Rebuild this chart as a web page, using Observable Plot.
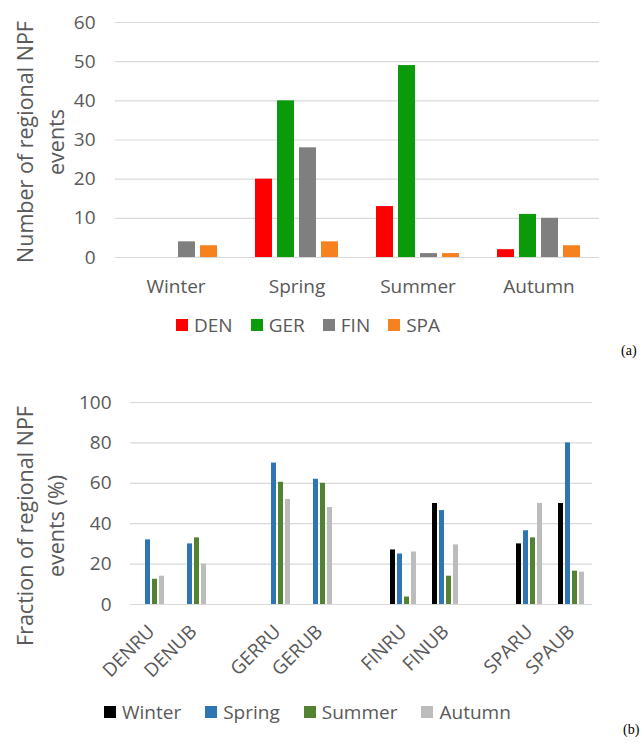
<!DOCTYPE html>
<html>
<head>
<meta charset="utf-8">
<script src="https://cdn.jsdelivr.net/npm/d3@7"></script>
<script src="https://cdn.jsdelivr.net/npm/@observablehq/plot@0.6"></script>
<style>
  html, body { margin: 0; padding: 0; background: #fff; }
  #root { position: relative; width: 641px; height: 743px; overflow: hidden; font-family: "Open Sans", sans-serif; color: #595959; }
  .panel { position: absolute; left: 0; }
  .ylab { position: absolute; text-align: center; transform: rotate(-90deg); font-size: 21.5px; line-height: 31px; white-space: nowrap; }
  .legend { position: absolute; display: flex; align-items: center; font-size: 19px; white-space: nowrap; }
  .legend .item { display: flex; align-items: center; }
  .legend .sw { display: inline-block; width: 12px; height: 12px; margin-right: 6px; }
  .tag { position: absolute; font-family: "Liberation Serif", serif; font-size: 14px; color: #000; }
</style>
</head>
<body>
<div id="root"></div>
<script>
// ---- Panel (a): number of regional NPF events per season and country
const seasons = ["Winter", "Spring", "Summer", "Autumn"];
const countries = ["DEN", "GER", "FIN", "SPA"];
const countryColors = ["#ff0000", "#0a9a0a", "#7f7f7f", "#f5821f"];
const eventsDEN = [0, 20, 13, 2];
const eventsGER = [0, 40, 49, 11];
const eventsFIN = [4, 28, 1, 10];
const eventsSPA = [3, 4, 1, 3];
const countTicks = [0, 10, 20, 30, 40, 50, 60];

// ---- Panel (b): fraction of regional NPF events per site and season
const sites = ["DENRU", "DENUB", "GERRU", "GERUB", "FINRU", "FINUB", "SPARU", "SPAUB"];
const siteSlots = ["DENRU", "DENUB", " ", "GERRU", "GERUB", "  ", "FINRU", "FINUB", "   ", "SPARU", "SPAUB"];
const seasonColors = ["#000000", "#2e75b6", "#548235", "#bcbcbc"];
const fracWinter = [0, 0, 0, 0, 27, 50, 30, 50];
const fracSpring = [32, 30, 70, 62, 25, 46.5, 36.5, 80];
const fracSummer = [12.5, 33, 60.5, 60, 3.7, 14, 33, 16.5];
const fracAutumn = [14, 20, 52, 48, 26, 29.5, 50, 16];
const fracTicks = [0, 20, 40, 60, 80, 100];

const yLabelA = ["Number of regional NPF", "events"];
const yLabelB = ["Fraction of regional NPF", "events (%)"];

// ---- tables
const eventsByCountry = [eventsDEN, eventsGER, eventsFIN, eventsSPA];
const tableA = [];
seasons.forEach((s, i) => countries.forEach((c, j) => tableA.push({season: s, country: c, value: eventsByCountry[j][i]})));
const gridA = seasons.flatMap(s => countTicks.map(v => ({season: s, v})));

const fracBySeason = [fracWinter, fracSpring, fracSummer, fracAutumn];
const tableB = [];
sites.forEach((site, i) => seasons.forEach((s, j) => tableB.push({site, season: s, value: fracBySeason[j][i]})));
const gridB = siteSlots.flatMap(s => fracTicks.map(v => ({site: s, v})));

const root = document.getElementById("root");
const baseStyle = {fontFamily: "Open Sans", fontSize: "19px", color: "#595959", background: "transparent", overflow: "visible"};

const plotA = Plot.plot({
  width: 641, height: 305,
  marginTop: 22, marginBottom: 48, marginLeft: 115, marginRight: 42,
  style: baseStyle,
  fx: {domain: seasons, padding: 0, label: null, axis: "bottom", tickSize: 0, tickPadding: 22},
  x: {domain: countries, paddingInner: 0.21, paddingOuter: 0.855, axis: null},
  y: {domain: [0, 60], ticks: countTicks, tickSize: 0, tickPadding: 20, label: null},
  color: {domain: countries, range: countryColors},
  marks: [
    Plot.ruleY(gridA, {fx: "season", y: "v", stroke: "#d9d9d9", strokeWidth: 1.2}),
    Plot.barY(tableA, {fx: "season", x: "country", y: "value", fill: "country"})
  ]
});
const wrapA = document.createElement("div");
wrapA.className = "panel"; wrapA.style.top = "0px";
wrapA.appendChild(plotA);
root.appendChild(wrapA);

const plotB = Plot.plot({
  width: 641, height: 310,
  marginTop: 22, marginBottom: 86, marginLeft: 125, marginRight: 44,
  style: baseStyle,
  fx: {domain: siteSlots, padding: 0, label: null, axis: "bottom", tickSize: 0, tickPadding: 24, tickRotate: -45},
  x: {domain: seasons, paddingInner: 0.23, paddingOuter: 0.875, axis: null},
  y: {domain: [0, 100], ticks: fracTicks, tickSize: 0, tickPadding: 19, label: null},
  color: {domain: seasons, range: seasonColors},
  marks: [
    Plot.ruleY(gridB, {fx: "site", y: "v", stroke: "#d9d9d9", strokeWidth: 1.2}),
    Plot.barY(tableB, {fx: "site", x: "season", y: "value", fill: "season"})
  ]
});
const wrapB = document.createElement("div");
wrapB.className = "panel"; wrapB.style.top = "380px";
wrapB.appendChild(plotB);
root.appendChild(wrapB);

// ---- y-axis titles
function yTitle(lines, cx, cy) {
  const w = 300, h = 62;
  const d = document.createElement("div");
  d.className = "ylab";
  d.style.width = w + "px"; d.style.height = h + "px";
  d.style.left = (cx - w / 2) + "px"; d.style.top = (cy - h / 2) + "px";
  d.innerHTML = lines.join("<br>");
  root.appendChild(d);
}
yTitle(yLabelA, 39.5, 142);
yTitle(yLabelB, 39.5, 526);

// ---- legends
function legend(names, colors, left, cy, gap) {
  const d = document.createElement("div");
  d.className = "legend";
  d.style.left = left + "px"; d.style.top = (cy - 14) + "px"; d.style.height = "28px"; d.style.gap = gap + "px";
  names.forEach((n, i) => {
    const it = document.createElement("span"); it.className = "item";
    const sw = document.createElement("span"); sw.className = "sw"; sw.style.background = colors[i];
    it.appendChild(sw); it.appendChild(document.createTextNode(n));
    d.appendChild(it);
  });
  root.appendChild(d);
}
legend(countries, countryColors, 176, 325, 18);
legend(seasons, seasonColors, 104, 712, 24);

// ---- panel tags
function tag(t, left, top) {
  const d = document.createElement("div"); d.className = "tag"; d.textContent = t;
  d.style.left = left + "px"; d.style.top = top + "px"; root.appendChild(d);
}
tag("(a)", 621, 343);
tag("(b)", 623, 722);
</script>
</body>
</html>
